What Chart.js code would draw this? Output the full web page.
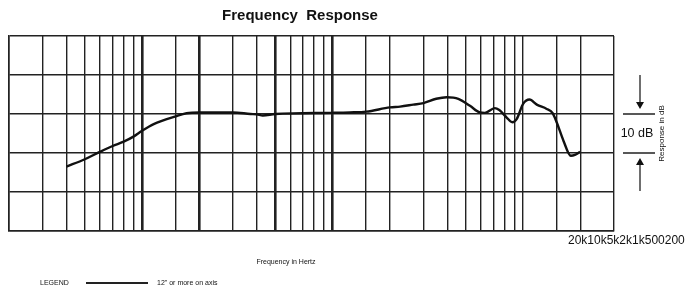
<!DOCTYPE html>
<html>
<head>
<meta charset="utf-8">
<script src="https://cdn.jsdelivr.net/npm/chart.js@4"></script>
<style>
  html, body { margin: 0; padding: 0; background: #fff; }
  #wrap { width: 687px; height: 295px; }
</style>
</head>
<body>
<div id="wrap"><canvas id="fr-chart" width="687" height="295"></canvas></div>
<script>
// response curve (Hz, dB relative to the 0 line)
var freqs = [40, 50, 60, 70, 80, 90, 100, 115, 150, 171, 200, 300, 370, 400, 430, 500,
  1000, 1230, 1500, 2000, 2260, 2650, 3000, 3500, 3970, 4570, 5260, 5930, 6300, 7100, 7500,
  8200, 8770, 9250, 10000, 10800, 11800, 13300, 14300, 15000, 16300, 17800, 18700, 19900];
var responseDb = [-13.5, -11.6, -9.7, -8.2, -7.1, -5.8, -4.3, -2.6, -0.6, 0.2, 0.4, 0.4, 0.0, -0.1, -0.4, 0.0,
  0.3, 0.4, 0.6, 1.7, 1.9, 2.4, 2.8, 3.9, 4.3, 3.9, 2.1, 0.4, 0.3, 1.5, 1.0,
  -0.9, -2.1, -1.3, 2.6, 3.7, 2.4, 1.3, 0.2, -2.1, -6.9, -10.7, -10.5, -9.7];

// vertical grid of the chart paper
var gridFreqs = [20, 30, 40, 50, 60, 70, 80, 90, 100, 150, 200, 300, 400, 500, 600, 700, 800, 900,
  1000, 1500, 2000, 3000, 4000, 5000, 6000, 7000, 8000, 9000, 10000, 15000, 20000, 30000];
var heavyFreqs = [100, 200, 500, 1000];

// tick labels as they sit in the picture
var freqLabels = ['20k', '10k', '5k', '2k', '1k', '500', '200'];

var FONT = '"Liberation Sans", Arial, sans-serif';

var paperText = {
  id: 'paperText',
  afterDraw: function (chart) {
    var ctx = chart.ctx;
    ctx.save();
    ctx.fillStyle = '#111';
    ctx.textBaseline = 'middle';

    ctx.font = 'bold 15px ' + FONT;
    ctx.textAlign = 'center';
    ctx.fillText('Frequency  Response', 300, 16);

    ctx.font = '12px ' + FONT;
    ctx.textAlign = 'left';
    ctx.fillText(freqLabels.join(''), 568, 241);

    ctx.font = '7px ' + FONT;
    ctx.textAlign = 'center';
    ctx.fillText('Frequency in Hertz', 286, 262);
    ctx.textAlign = 'left';
    ctx.fillText('LEGEND', 40, 283);
    ctx.fillText('12" or more on axis', 157, 283);

    ctx.strokeStyle = '#222';
    ctx.lineWidth = 2;
    ctx.beginPath();
    ctx.moveTo(86, 283); ctx.lineTo(148, 283);
    ctx.stroke();

    // 10 dB marker at the right
    var y = chart.scales.y;
    var y0 = y.getPixelForValue(0), y1 = y.getPixelForValue(-10);
    ctx.lineWidth = 1.3;
    ctx.beginPath();
    ctx.moveTo(623, y0); ctx.lineTo(655, y0);
    ctx.moveTo(623, y1); ctx.lineTo(655, y1);
    ctx.moveTo(640, 75); ctx.lineTo(640, y0 - 8);
    ctx.moveTo(640, y1 + 9); ctx.lineTo(640, 191);
    ctx.stroke();
    ctx.beginPath();
    ctx.moveTo(636, y0 - 12); ctx.lineTo(644, y0 - 12); ctx.lineTo(640, y0 - 5); ctx.closePath();
    ctx.moveTo(636, y1 + 12); ctx.lineTo(644, y1 + 12); ctx.lineTo(640, y1 + 5); ctx.closePath();
    ctx.fill();

    ctx.font = '12.5px ' + FONT;
    ctx.textAlign = 'center';
    ctx.fillText('10 dB', 637, (y0 + y1) / 2);

    ctx.font = '8px ' + FONT;
    ctx.translate(662, (y0 + y1) / 2);
    ctx.rotate(-Math.PI / 2);
    ctx.fillText('Response in dB', 0, 0);
    ctx.restore();
  }
};

var points = freqs.map(function (f, i) { return { x: f, y: responseDb[i] }; });

new Chart('fr-chart', {
  type: 'line',
  data: {
    datasets: [{
      data: points,
      borderColor: '#111',
      borderWidth: 2.4,
      pointRadius: 0,
      cubicInterpolationMode: 'monotone',
      fill: false
    }]
  },
  options: {
    responsive: false,
    animation: false,
    events: [],
    layout: { padding: { left: 9, right: 73, top: 36, bottom: 64 } },
    plugins: { legend: { display: false }, tooltip: { enabled: false }, title: { display: false } },
    scales: {
      x: {
        type: 'logarithmic',
        min: 20,
        max: 30000,
        afterBuildTicks: function (axis) {
          axis.ticks = gridFreqs.map(function (v) { return { value: v }; });
        },
        ticks: { display: false },
        grid: {
          drawTicks: false,
          color: '#222',
          lineWidth: function (c) {
            return heavyFreqs.indexOf(c.tick && c.tick.value) >= 0 ? 2.6 : 1.4;
          }
        },
        border: { display: true, color: '#222', width: 1.6 }
      },
      y: {
        min: -30,
        max: 20,
        ticks: { display: false, stepSize: 10 },
        grid: { drawTicks: false, color: '#222', lineWidth: 1.5 },
        border: { display: true, color: '#222', width: 1.6 }
      }
    }
  },
  plugins: [paperText]
});
</script>
</body>
</html>
